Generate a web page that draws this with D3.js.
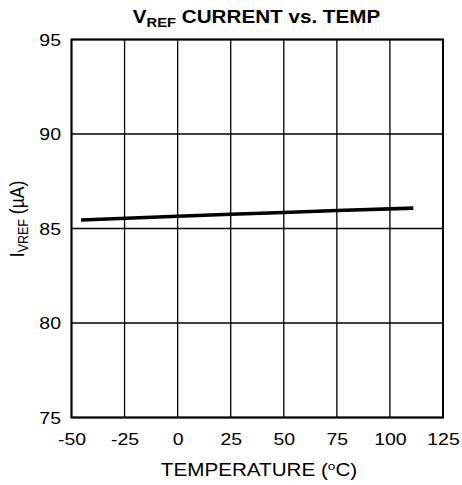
<!DOCTYPE html>
<html><head><meta charset="utf-8">
<script src="https://cdn.jsdelivr.net/npm/d3@7"></script>
<style>body{margin:0;background:#fff}svg{display:block}text{font-family:"Liberation Sans",Arial,sans-serif;fill:#000}</style>
</head><body><svg id="c" width="462" height="485"></svg>
<script>
const temps = [-45.5, 0, 25, 50, 75, 111];
const iref = [85.45, 85.65, 85.75, 85.85, 85.95, 86.08];
const xTicks = [-50, -25, 0, 25, 50, 75, 100, 125];
const yTicks = [75, 80, 85, 90, 95];

const SX = 1.18; // horizontal stretch of the reference's lettering
const FONT = "Liberation Sans, Arial, sans-serif";
const svg = d3.select("#c");
const L = 71.5, R = 443, T = 39.5, B = 417.5;
const x = d3.scaleLinear().domain([-50, 125]).range([L, R]);
const y = d3.scaleLinear().domain([75, 95]).range([B, T]);

// grid
svg.append("g").selectAll("line").data(xTicks).join("line")
  .attr("x1", d => x(d)).attr("x2", d => x(d)).attr("y1", T).attr("y2", B)
  .attr("stroke", "#000").attr("stroke-width", 1.3);
svg.append("g").selectAll("line").data(yTicks).join("line")
  .attr("y1", d => y(d)).attr("y2", d => y(d)).attr("x1", L).attr("x2", R)
  .attr("stroke", "#000").attr("stroke-width", 1.3);
svg.append("rect").attr("x", L).attr("y", T).attr("width", R - L).attr("height", B - T)
  .attr("fill", "none").attr("stroke", "#000").attr("stroke-width", 2);

// axes labels
const xa = svg.append("g").attr("transform", `translate(0,${B})`)
  .call(d3.axisBottom(x).tickValues(xTicks).tickSize(0).tickFormat(d => String(d)));
xa.select(".domain").remove();
xa.selectAll("text").attr("font-size", 16.5).attr("font-family", FONT).attr("fill", "#000")
  .attr("y", 27.5).attr("dy", 0).attr("transform", `scale(${SX},1)`);

const ya = svg.append("g").attr("transform", `translate(${L},0)`)
  .call(d3.axisLeft(y).tickValues(yTicks).tickSize(0).tickFormat(d => String(d)));
ya.select(".domain").remove();
ya.selectAll("text").attr("font-size", 16.5).attr("font-family", FONT).attr("fill", "#000")
  .attr("x", -10.5 / SX).attr("dy", "0.36em").attr("transform", `scale(${SX},1)`);

// line
svg.append("path").datum(temps.map((t, i) => [t, iref[i]]))
  .attr("d", d3.line().x(d => x(d[0])).y(d => y(d[1])))
  .attr("fill", "none").attr("stroke", "#000").attr("stroke-width", 3.6);

// title
const title = svg.append("text").attr("transform", `translate(256.5,23) scale(${SX},1)`)
  .attr("text-anchor", "middle").attr("font-weight", "bold").attr("font-size", 17.5);
title.append("tspan").text("V");
title.append("tspan").attr("font-size", 12.5).attr("dy", 4).text("REF");
title.append("tspan").attr("dy", -4).text(" CURRENT vs. TEMP");

// x title
const xt = svg.append("text").attr("transform", `translate(259,476) scale(${SX},1)`)
  .attr("text-anchor", "middle").attr("font-size", 17.5);
xt.append("tspan").text("TEMPERATURE (");
xt.append("tspan").attr("font-size", 11.5).attr("dy", -6.5).text("o");
xt.append("tspan").attr("dy", 6.5).text("C)");

// y title
const yt = svg.append("text").attr("transform", `translate(23.5,219) rotate(-90) scale(1,${SX})`)
  .attr("text-anchor", "middle").attr("font-size", 17.5);
yt.append("tspan").text("I");
yt.append("tspan").attr("font-size", 12.5).attr("dy", 4).text("VREF");
yt.append("tspan").attr("dy", -4).text(" (µA)");
</script></body></html>
